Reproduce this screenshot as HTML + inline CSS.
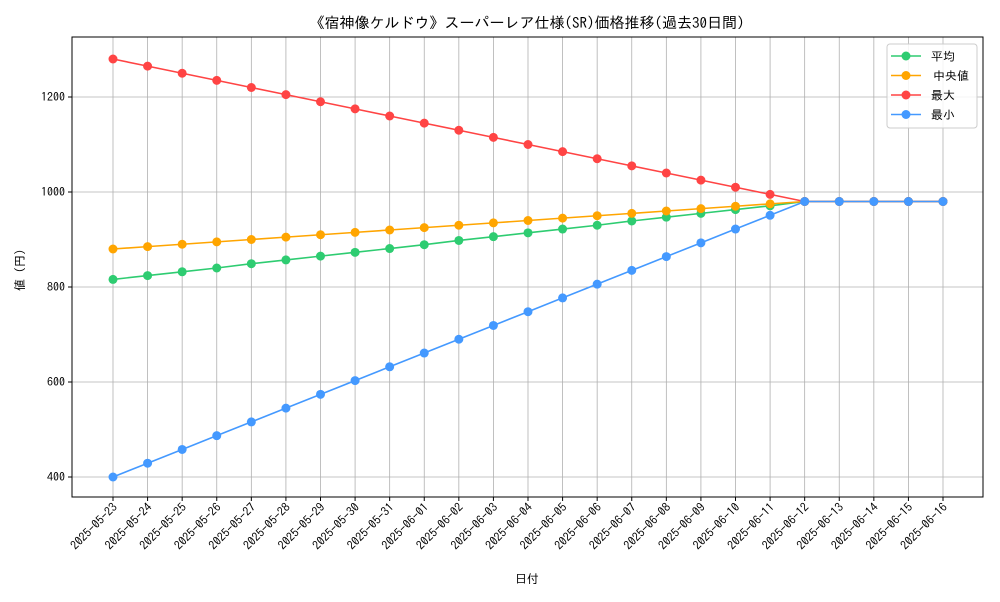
<!DOCTYPE html>
<html><head><meta charset="utf-8"><style>
body{margin:0;background:#fff;font-family:"IPAGothic","Noto Sans CJK JP",sans-serif;}
</style></head><body>
<svg id="chart" width="1000" height="600" xmlns="http://www.w3.org/2000/svg" font-family="IPAGothic, Noto Sans CJK JP, sans-serif">
<rect width="1000" height="600" fill="#fff"/>
<text x="527" y="28" font-size="15" text-anchor="middle">《宿神像ケルドウ》スーパーレア仕様(SR)価格推移(過去30日間)</text>
<g id="grid"></g>
<g id="series"></g>
<rect x="72" y="37" width="911" height="460" fill="none" stroke="#000" stroke-width="1"/>
<g id="axes" font-size="12"></g>
<text x="527" y="583" font-size="12" text-anchor="middle">日付</text>
<text transform="translate(24,267) rotate(-90)" font-size="12" text-anchor="middle">値（円）</text>
<g id="legend"></g>
</svg>
<script>
const categories=["2025-05-23","2025-05-24","2025-05-25","2025-05-26","2025-05-27","2025-05-28","2025-05-29","2025-05-30","2025-05-31","2025-06-01","2025-06-02","2025-06-03","2025-06-04","2025-06-05","2025-06-06","2025-06-07","2025-06-08","2025-06-09","2025-06-10","2025-06-11","2025-06-12","2025-06-13","2025-06-14","2025-06-15","2025-06-16"];
const meanVals=[816,824,832,840,849,857,865,873,881,889,898,906,914,922,930,939,947,955,963,971,980,980,980,980,980];
const medianVals=[880,885,890,895,900,905,910,915,920,925,930,935,940,945,950,955,960,965,970,975,980,980,980,980,980];
const maxVals=[1280,1265,1250,1235,1220,1205,1190,1175,1160,1145,1130,1115,1100,1085,1070,1055,1040,1025,1010,995,980,980,980,980,980];
const minVals=[400,429,458,487,516,545,574,603,632,661,690,719,748,777,806,835,864,893,922,951,980,980,980,980,980];
const yTicks=[400,600,800,1000,1200];
const seriesNames=["平均","中央値","最大","最小"];
const NS="http://www.w3.org/2000/svg";
const xs=i=>113+i*(943-113)/(categories.length-1);
const ys=v=>477-(v-400)*0.475;
function mk(t,a,p){const e=document.createElementNS(NS,t);for(const k in a)e.setAttribute(k,a[k]);p.appendChild(e);return e;}
const grid=document.getElementById('grid'),axes=document.getElementById('axes'),ser=document.getElementById('series'),leg=document.getElementById('legend');
categories.forEach((c,i)=>{
 const x=xs(i);
 const g=mk('line',{x1:x,x2:x,y1:37,y2:497,stroke:'#b0b0b0','stroke-width':0.8},grid);
 
 
 mk('line',{x1:x,x2:x,y1:497,y2:501,stroke:'#000'},axes);
 const t=mk('text',{x:x+5,y:508,'text-anchor':'end',transform:`rotate(-45 ${x+5} 508)`,'font-size':12},axes);
 t.textContent=c;
 
 
});
yTicks.forEach(v=>{
 const y=ys(v);
 const g=mk('line',{x1:72,x2:983,y1:y,y2:y,stroke:'#b0b0b0','stroke-width':0.8},grid);
 
 
 mk('line',{x1:68,x2:72,y1:y,y2:y,stroke:'#000'},axes);
 const t=mk('text',{x:65,y:y+4,'text-anchor':'end'},axes);
 t.textContent=v;
 
 
});
const data=[meanVals,medianVals,maxVals,minVals];
const colors=["#2ecc71","#ffa500","#ff4444","#4499ff"];
const ids=["mean","median","max","min"];
data.forEach((vals,s)=>{
 const gs=mk('g',{},ser);
 
 
 const p=mk('polyline',{points:vals.map((v,i)=>xs(i)+','+ys(v)).join(' '),fill:'none',stroke:colors[s],'stroke-width':1.6},gs);
 
 
 vals.forEach((v,i)=>{
  const c=mk('circle',{cx:xs(i),cy:ys(v),r:4.5,fill:colors[s]},gs);
  
  
 });
});
mk('rect',{x:887,y:44,width:90,height:84,rx:3,fill:'#fff','fill-opacity':0.85,stroke:'#ccc'},leg);
seriesNames.forEach((n,s)=>{
 const y=56+s*19.5;
 const g=mk('g',{},leg);
 
 
 mk('line',{x1:891,x2:921,y1:y,y2:y,stroke:colors[s],'stroke-width':1.6},g);
 mk('circle',{cx:906,cy:y,r:4.5,fill:colors[s]},g);
 const t=mk('text',{x:s==1?933:931,y:y+4.5,'font-size':12},g);
 t.textContent=n;
});
</script>
</body></html>
